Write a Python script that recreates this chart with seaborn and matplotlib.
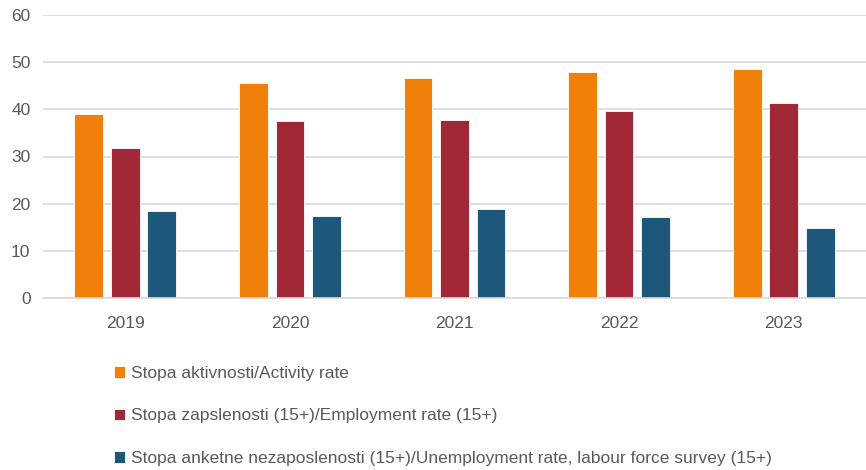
import matplotlib
matplotlib.use("Agg")
import matplotlib.pyplot as plt
import seaborn as sns
import pandas as pd

# Data
years = ["2019", "2020", "2021", "2022", "2023"]
series_names = [
    "Stopa aktivnosti/Activity rate",
    "Stopa zapslenosti (15+)/Employment rate (15+)",
    "Stopa anketne nezaposlenosti (15+)/Unemployment rate, labour force survey (15+)",
]
activity_rate = [39.1, 45.6, 46.6, 48.0, 48.5]
employment_rate = [31.9, 37.5, 37.7, 39.6, 41.3]
unemployment_rate = [18.4, 17.4, 18.9, 17.1, 14.8]
colors = ["#F0800A", "#A12837", "#1D5779"]

rows = []
for name, vals in zip(series_names, [activity_rate, employment_rate, unemployment_rate]):
    for yr, v in zip(years, vals):
        rows.append({"year": yr, "value": v, "series": name})
df = pd.DataFrame(rows)

sns.set_style("white")
plt.rcParams["font.family"] = ["Liberation Sans", "DejaVu Sans"]

fig = plt.figure(figsize=(8.66, 4.70), dpi=100)
ax = fig.add_axes([43 / 866, 1 - 298 / 470, 1 - 43 / 866, 283 / 470])

sns.barplot(data=df, x="year", y="value", hue="series", palette=colors,
            width=0.665, gap=0.214, saturation=1, edgecolor="white",
            linewidth=0.6, ax=ax, errorbar=None)

ax.set_ylim(0, 60)
ax.set_xlim(-0.5, 4.5)
ax.set_yticks(range(0, 61, 10))
ax.yaxis.grid(True, color="#d9d9d9", linewidth=1.2)
ax.set_axisbelow(True)
for s in ["top", "right", "left"]:
    ax.spines[s].set_visible(False)
ax.spines["bottom"].set_color("#d9d9d9")
ax.spines["bottom"].set_linewidth(1.2)
ax.set_xlabel("")
ax.set_ylabel("")
ax.tick_params(axis="y", length=0, pad=9, labelsize=12.5, labelcolor="#595959")
ax.tick_params(axis="x", length=0, pad=13, labelsize=12.5, labelcolor="#595959")

handles, labels = ax.get_legend_handles_labels()
ax.legend(handles, labels, loc="upper left",
          bbox_to_anchor=(114 / 866, 1 - 366 / 470), bbox_transform=fig.transFigure,
          frameon=False, ncol=1, fontsize=12.5, labelcolor="#595959",
          handlelength=0.65, handleheight=0.65, handletextpad=0.35,
          labelspacing=1.58, borderaxespad=0, borderpad=0)

fig.savefig("out.png", dpi=100)
